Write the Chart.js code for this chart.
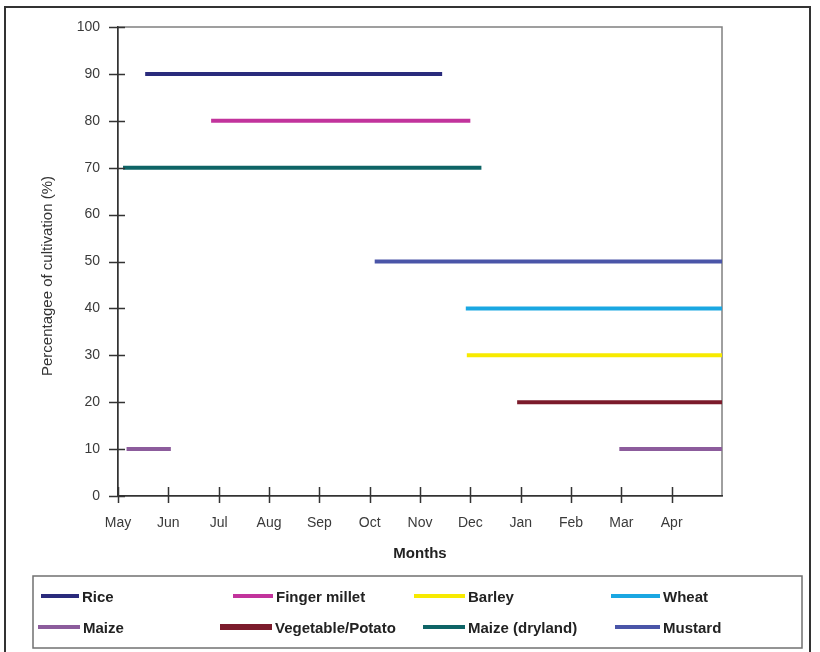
<!DOCTYPE html>
<html>
<head>
<meta charset="utf-8">
<script src="https://cdn.jsdelivr.net/npm/chart.js@4.4.1/dist/chart.umd.min.js"></script>
<style>
  body { margin: 0; background: #fff; }
  canvas { display: block; }
</style>
</head>
<body>
<canvas id="chart" width="820" height="652"></canvas>
<script>
// months on the x axis (position 0 = start of May, 12 = end of April)
const months = ["May", "Jun", "Jul", "Aug", "Sep", "Oct", "Nov", "Dec", "Jan", "Feb", "Mar", "Apr"];
const yTicks = [0, 10, 20, 30, 40, 50, 60, 70, 80, 90, 100];

// crops, in legend order
const crops = ["Rice", "Finger millet", "Barley", "Wheat", "Maize", "Vegetable/Potato", "Maize (dryland)", "Mustard"];
const cultivation = [90, 80, 30, 40, 10, 20, 70, 50];
const seasonStart = [0.54, 1.85, 6.93, 6.91, 0.17, 7.93, 0.10, 5.10];
const seasonEnd = [6.44, 7.00, 12, 12, 1.05, 12, 7.22, 12];
const maizeSpring = [9.96, 12]; // second maize window, Mar-Apr
const cropColors = ["#2a2b7c", "#c2339c", "#f7ea00", "#1aa7e2", "#8c5c9c", "#7b1b2b", "#0e6466", "#4a55a8"];

const FONT = "'Liberation Sans', Arial, sans-serif";

const datasets = crops.map((name, i) => {
  const pts = [{ x: seasonStart[i], y: cultivation[i] }, { x: seasonEnd[i], y: cultivation[i] }];
  if (name === "Maize") {
    pts.push({ x: (seasonEnd[i] + maizeSpring[0]) / 2, y: null });
    pts.push({ x: maizeSpring[0], y: cultivation[i] }, { x: maizeSpring[1], y: cultivation[i] });
  }
  return {
    label: name,
    data: pts,
    borderColor: cropColors[i],
    backgroundColor: cropColors[i],
    borderWidth: 4,
    pointRadius: 0,
    borderCapStyle: "butt",
    spanGaps: false,
    tension: 0
  };
});

// frame, tick marks, y title and legend box
const decor = {
  id: "decor",
  beforeDraw(chart) {
    const { ctx, chartArea: a } = chart;
    ctx.save();
    ctx.fillStyle = "#fff";
    ctx.fillRect(0, 0, chart.width, chart.height);
    // outer frame
    ctx.strokeStyle = "#333";
    ctx.lineWidth = 2;
    ctx.strokeRect(5, 7, 805, 660);
    // plot frame (top/right grey)
    ctx.strokeStyle = "#808080";
    ctx.lineWidth = 1.5;
    ctx.strokeRect(a.left, a.top, a.right - a.left, a.bottom - a.top);
    ctx.restore();
  },
  afterDraw(chart) {
    const { ctx, chartArea: a, scales } = chart;
    ctx.save();
    ctx.strokeStyle = "#333";
    ctx.lineWidth = 1.5;
    ctx.beginPath();
    yTicks.forEach(v => {
      const y = Math.round(scales.y.getPixelForValue(v)) + 0.5;
      ctx.moveTo(a.left - 9, y);
      ctx.lineTo(a.left + 7, y);
    });
    months.forEach((m, i) => {
      const x = Math.round(scales.x.getPixelForValue(i)) + 0.5;
      ctx.moveTo(x, a.bottom - 9);
      ctx.lineTo(x, a.bottom + 7);
    });
    ctx.stroke();

    // y axis title
    ctx.fillStyle = "#333";
    ctx.font = "15px " + FONT;
    ctx.textAlign = "center";
    ctx.textBaseline = "middle";
    ctx.translate(48, 276);
    ctx.rotate(-Math.PI / 2);
    ctx.fillText("Percentagee of cultivation (%)", 0, 0);
    ctx.setTransform(1, 0, 0, 1, 0, 0);

    // legend
    ctx.strokeStyle = "#707070";
    ctx.lineWidth = 1.5;
    ctx.strokeRect(33, 576, 769, 72);
    const cols = [[41, 79], [233, 273], [414, 465], [611, 660]];
    const cols2 = [[38, 80], [220, 272], [423, 465], [615, 660]];
    const rows = [598, 629];
    ctx.font = "bold 15px " + FONT;
    ctx.textAlign = "left";
    ctx.fillStyle = "#222";
    crops.forEach((name, i) => {
      const r = Math.floor(i / 4);
      const c = i % 4;
      const [x0, x1] = (r === 0 ? cols : cols2)[c];
      const y = rows[r];
      ctx.strokeStyle = cropColors[i];
      ctx.lineWidth = name === "Vegetable/Potato" ? 6 : 4;
      ctx.beginPath();
      ctx.moveTo(x0, y - 2);
      ctx.lineTo(x1, y - 2);
      ctx.stroke();
      ctx.fillText(name, x1 + 3, y);
    });
    ctx.restore();
  }
};

new Chart(document.getElementById("chart"), {
  type: "line",
  data: { datasets },
  plugins: [decor],
  options: {
    responsive: false,
    animation: false,
    layout: { padding: { left: 0, top: 27, right: 98, bottom: 76 } },
    plugins: { legend: { display: false }, tooltip: { enabled: false } },
    scales: {
      x: {
        type: "linear",
        min: 0,
        max: 12,
        afterFit: s => { s.height = 80; },
        afterBuildTicks: s => { s.ticks = months.map((m, i) => ({ value: i })); },
        grid: { display: false, drawTicks: false },
        border: { display: true, color: "#333", width: 1.5 },
        ticks: {
          autoSkip: false,
          maxRotation: 0,
          padding: 19,
          color: "#3a3a3a",
          font: { family: FONT, size: 14 },
          callback: v => months[v]
        },
        title: {
          display: true,
          text: "Months",
          color: "#222",
          font: { family: FONT, size: 15, weight: "bold" },
          padding: { top: 0, bottom: 13 }
        }
      },
      y: {
        min: 0,
        max: 100,
        afterFit: s => { s.width = 118; },
        grid: { display: false, drawTicks: false },
        border: { display: true, color: "#333", width: 1.5 },
        ticks: {
          stepSize: 10,
          padding: 18,
          color: "#3a3a3a",
          font: { family: FONT, size: 14 }
        }
      }
    }
  }
});
</script>
</body>
</html>
